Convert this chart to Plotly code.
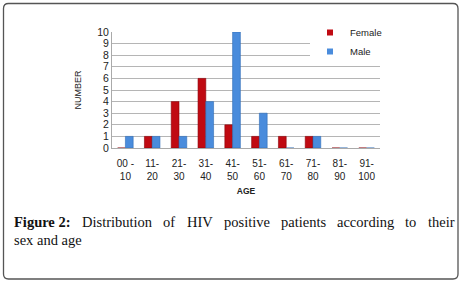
import plotly.graph_objects as go

categories = ["00 -<br>10", "11-<br>20", "21-<br>30", "31-<br>40", "41-<br>50",
              "51-<br>60", "61-<br>70", "71-<br>80", "81-<br>90", "91-<br>100"]
female = [0, 1, 4, 6, 2, 1, 1, 1, 0, 0]
male = [1, 1, 1, 4, 10, 3, 0, 1, 0, 0]
y_ticks = list(range(0, 11))
caption_words = ["<b>Figure 2:</b>", "Distribution", "of", "HIV", "positive",
                 "patients", "according", "to", "their"]
caption_line2 = "sex and age"

RED, BLUE = "#C00A12", "#4A8CDC"

W, H = 462, 283
L, R, T, B = 112, 82, 32, 135
pw, ph = W - L - R, H - T - B

def px(x):
    return (x - L) / pw

def py(y):
    return (H - B - y) / ph

fig = go.Figure()
fig.add_trace(go.Bar(x=categories, y=female, name="Female", showlegend=False,
                     marker=dict(color=RED, line=dict(color="#8a0008", width=0.6))))
fig.add_trace(go.Bar(x=categories, y=male, name="Male", showlegend=False,
                     marker=dict(color=BLUE, line=dict(color="#2f6cb5", width=0.6))))
# legend entries with small square swatches
fig.add_trace(go.Scatter(x=[None], y=[None], mode="markers", name="Female",
                         marker=dict(symbol="square", size=6, color=RED)))
fig.add_trace(go.Scatter(x=[None], y=[None], mode="markers", name="Male",
                         marker=dict(symbol="square", size=6, color=BLUE)))

# rounded border box
x0, x1, y0, y1 = px(3.5), px(458), py(3.5), py(279)
rx, ry = 5 / pw, 5 / ph
path = (f"M {x0},{y1+ry} L {x0},{y0-ry} Q {x0},{y0} {x0+rx},{y0} "
        f"L {x1-rx},{y0} Q {x1},{y0} {x1},{y0-ry} L {x1},{y1+ry} "
        f"Q {x1},{y1} {x1-rx},{y1} L {x0+rx},{y1} Q {x0},{y1} {x0},{y1+ry} Z")
fig.add_shape(type="path", path=path, xref="paper", yref="paper",
              line=dict(color="#555555", width=1.3))

# justified caption: first line placed word by word
word_x = [12, 80, 161, 184.5, 221.5, 278.5, 334.5, 403, 425.5]
cap_font = dict(family="Liberation Serif, Times New Roman, serif", size=14.5, color="#111111")
for w, xl in zip(caption_words, word_x):
    fig.add_annotation(text=w, xref="paper", yref="paper", x=px(xl), y=py(222),
                       xanchor="left", yanchor="middle", showarrow=False, font=cap_font)
fig.add_annotation(text=caption_line2, xref="paper", yref="paper", x=px(12), y=py(240),
                   xanchor="left", yanchor="middle", showarrow=False, font=cap_font)

fig.update_layout(
    width=W, height=H,
    margin=dict(l=L, r=R, t=T, b=B),
    paper_bgcolor="white", plot_bgcolor="white",
    barmode="group", bargap=0.42, bargroupgap=0.0,
    font=dict(family="Liberation Sans, Arial, sans-serif", size=9, color="#222222"),
    legend=dict(x=px(310), y=py(18), xanchor="left", yanchor="top",
                bgcolor="rgba(255,255,255,1)", font=dict(size=9.5), itemwidth=30,
                tracegroupgap=0),
    xaxis=dict(showgrid=False, showline=True, linecolor="#aaaaaa", ticks="",
               tickfont=dict(size=10), tickangle=0, ticklabelstandoff=6,
               title=dict(text="<b>AGE</b>", font=dict(size=8.5), standoff=7)),
    yaxis=dict(range=[0, 10], tickvals=y_ticks, showgrid=True, gridcolor="#b5b5b5",
               gridwidth=1, showline=True, linecolor="#aaaaaa", zeroline=False,
               ticks="", tickfont=dict(size=10.5),
               title=dict(text="NUMBER", font=dict(size=9), standoff=14)),
    showlegend=True,
)

fig.write_html("out.html", config={"displayModeBar": False},
               post_script="document.body.style.margin='0px';")
